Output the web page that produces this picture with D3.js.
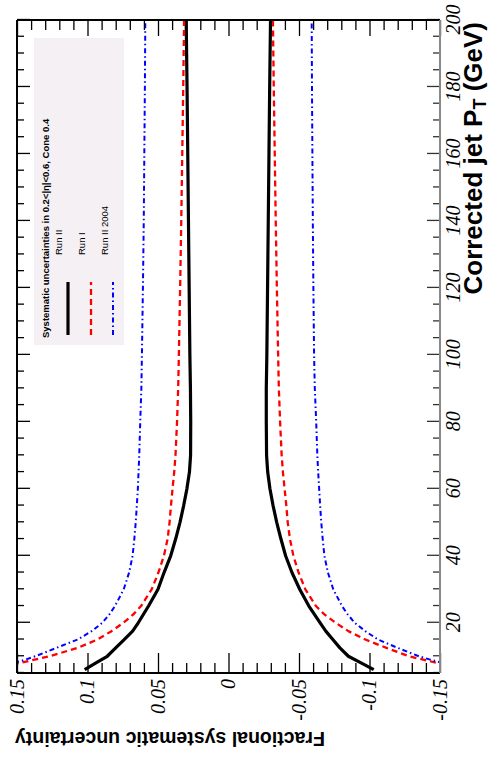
<!DOCTYPE html>
<html>
<head>
<meta charset="utf-8">
<script src="https://cdn.jsdelivr.net/npm/d3@7"></script>
<style>
  html, body { margin: 0; padding: 0; background: #fff; }
  svg { display: block; }
</style>
</head>
<body>
<svg id="chart" width="491" height="771"></svg>
<script>
// ---- Data ----
const ptRunII = [6, 8, 10, 12.5, 15, 17.5, 20, 25, 30, 35, 40, 45, 50, 55, 60, 65, 70, 80, 90, 100, 120, 140, 160, 180, 200];
const runIIUp = [0.102, 0.094, 0.086, 0.080, 0.074, 0.068, 0.064, 0.0567, 0.050, 0.0457, 0.041, 0.0375, 0.0344, 0.0318, 0.0295, 0.0277, 0.0269, 0.0268, 0.027, 0.0274, 0.0279, 0.0284, 0.0289, 0.0294, 0.030];
const runIIDown = [-0.103, -0.094, -0.085, -0.079, -0.074, -0.069, -0.065, -0.057, -0.0505, -0.045, -0.0405, -0.0372, -0.0342, -0.0316, -0.0294, -0.0278, -0.027, -0.0268, -0.0268, -0.0272, -0.0277, -0.0282, -0.0287, -0.0292, -0.0298];

const ptRunI = [7.5, 8, 10, 12.5, 15, 17.5, 20, 22.5, 25, 30, 35, 40, 45, 50, 55, 60, 65, 70, 80, 90, 100, 120, 140, 160, 180, 200];
const runIUp = [0.153, 0.148, 0.127, 0.107, 0.093, 0.083, 0.0745, 0.0675, 0.062, 0.0545, 0.0497, 0.0458, 0.0432, 0.0418, 0.0408, 0.0397, 0.0385, 0.0376, 0.0365, 0.0357, 0.0352, 0.0343, 0.0335, 0.0328, 0.0321, 0.0315];
const runIDown = [-0.154, -0.148, -0.128, -0.112, -0.097, -0.085, -0.076, -0.068, -0.062, -0.0545, -0.0497, -0.046, -0.0436, -0.042, -0.041, -0.0398, -0.0386, -0.0377, -0.0366, -0.0357, -0.0352, -0.0343, -0.0335, -0.0328, -0.0321, -0.0315];

const pt2004 = [8, 9, 10, 12.5, 15, 17.5, 20, 22.5, 25, 30, 35, 40, 45, 50, 55, 60, 65, 70, 80, 90, 100, 120, 140, 160, 180, 200];
const run2004Up = [0.152, 0.144, 0.137, 0.122, 0.107, 0.097, 0.0895, 0.0845, 0.0805, 0.0743, 0.0705, 0.068, 0.0668, 0.0658, 0.065, 0.0643, 0.0638, 0.0633, 0.0626, 0.0618, 0.0614, 0.0607, 0.0601, 0.0597, 0.0593, 0.059];
const run2004Down = [-0.152, -0.143, -0.135, -0.12, -0.106, -0.097, -0.0895, -0.0845, -0.0805, -0.0743, -0.0705, -0.068, -0.0668, -0.0658, -0.065, -0.0643, -0.0636, -0.063, -0.0622, -0.0612, -0.0607, -0.0602, -0.0598, -0.0595, -0.0592, -0.059];

const xMajorTicks = [20, 40, 60, 80, 100, 120, 140, 160, 180, 200];
const yMajorTicks = [-0.15, -0.1, -0.05, 0, 0.05, 0.1, 0.15];
const legendLabels = ["Run II", "Run I", "Run II 2004"];
const legendTitle = "Systematic uncertainties in 0.2<|\u03b7|<0.6, Cone 0.4";
const xTitle = "Corrected jet P";
const xTitleSub = "T";
const xTitleTail = " (GeV)";
const yTitle = "Fractional systematic uncertainty";

// ---- Layout (chart drawn in its natural orientation, then rotated -90deg) ----
const svg = d3.select("#chart");
const g = svg.append("g").attr("transform", "translate(0,771) rotate(-90)");

const x = d3.scaleLinear().domain([5, 200]).range([98, 751]);
const y = d3.scaleLinear().domain([-0.15, 0.15]).range([440, 17]);

const xMinor = d3.range(5, 201, 5).filter(v => v % 20 !== 0);
const yMinor = d3.range(-15, 16, 1).map(v => v / 100).filter(v => Math.abs(Math.round(v * 100)) % 5 !== 0);

const fmtY = d => d === 0 ? "0" : String(+d.toFixed(2)).replace("\u2212", "-");

// clip
svg.append("defs").append("clipPath").attr("id", "clip")
  .append("rect").attr("x", x(5)).attr("y", y(0.15))
  .attr("width", x(200) - x(5)).attr("height", y(-0.15) - y(0.15));

// curves
const series = [
  { pt: ptRunII, vals: runIIUp, color: "#000", w: 3.2, dash: null },
  { pt: ptRunII, vals: runIIDown, color: "#000", w: 3.2, dash: null },
  { pt: ptRunI, vals: runIUp, color: "#ff0000", w: 2.3, dash: "6,4" },
  { pt: ptRunI, vals: runIDown, color: "#ff0000", w: 2.3, dash: "6,4" },
  { pt: pt2004, vals: run2004Up, color: "#0000ff", w: 2, dash: "5,3,1.5,3" },
  { pt: pt2004, vals: run2004Down, color: "#0000ff", w: 2, dash: "5,3,1.5,3" }
];
const line = d3.line().x(d => x(d[0])).y(d => y(d[1]));
const curves = g.append("g").attr("clip-path", "url(#clip)");
series.forEach(s => {
  curves.append("path")
    .datum(s.pt.map((p, i) => [p, s.vals[i]]))
    .attr("d", line)
    .attr("fill", "none")
    .attr("stroke", s.color)
    .attr("stroke-width", s.w)
    .attr("stroke-dasharray", s.dash)
    .attr("stroke-linejoin", "round");
});

// axes
function styleAxis(sel, color) {
  sel.select(".domain").remove();
  sel.selectAll(".tick line").attr("stroke", color || "#000").attr("stroke-width", 1.3);
}
const tickFont = "'Liberation Serif','Times New Roman',serif";

// bottom (pT) axis
const xAx = g.append("g").attr("transform", `translate(0,${y(-0.15)})`)
  .call(d3.axisBottom(x).tickValues(xMajorTicks).tickSize(-13).tickPadding(6).tickFormat(d3.format("d")));
styleAxis(xAx, "#333");
xAx.selectAll("text").attr("font-family", tickFont).attr("font-style", "italic")
  .attr("font-size", 20).attr("fill", "#000");
const xAxMin = g.append("g").attr("transform", `translate(0,${y(-0.15)})`)
  .call(d3.axisBottom(x).tickValues(xMinor).tickSize(-7).tickFormat(""));
styleAxis(xAxMin, "#333");

// top (mirror)
const xTop = g.append("g").attr("transform", `translate(0,${y(0.15)})`)
  .call(d3.axisTop(x).tickValues(xMajorTicks).tickSize(-13).tickFormat(""));
styleAxis(xTop);
const xTopMin = g.append("g").attr("transform", `translate(0,${y(0.15)})`)
  .call(d3.axisTop(x).tickValues(xMinor).tickSize(-7).tickFormat(""));
styleAxis(xTopMin);

// left (value) axis
const yAx = g.append("g").attr("transform", `translate(${x(5)},0)`)
  .call(d3.axisLeft(y).tickValues(yMajorTicks).tickSize(-20).tickPadding(6).tickFormat(fmtY));
styleAxis(yAx);
yAx.selectAll("text").attr("font-family", tickFont).attr("font-style", "italic")
  .attr("font-size", 20).attr("fill", "#000");
const yAxMin = g.append("g").attr("transform", `translate(${x(5)},0)`)
  .call(d3.axisLeft(y).tickValues(yMinor).tickSize(-10).tickFormat(""));
styleAxis(yAxMin);

// right (mirror)
const yR = g.append("g").attr("transform", `translate(${x(200)},0)`)
  .call(d3.axisRight(y).tickValues(yMajorTicks).tickSize(-16).tickFormat(""));
styleAxis(yR);
const yRMin = g.append("g").attr("transform", `translate(${x(200)},0)`)
  .call(d3.axisRight(y).tickValues(yMinor).tickSize(-10).tickFormat(""));
styleAxis(yRMin);

// frame
g.append("line").attr("x1", x(5)).attr("x2", x(200)).attr("y1", y(0.15)).attr("y2", y(0.15))
  .attr("stroke", "#000").attr("stroke-width", 2);
g.append("line").attr("x1", x(5)).attr("x2", x(5)).attr("y1", y(0.15)).attr("y2", y(-0.15))
  .attr("stroke", "#000").attr("stroke-width", 2);
g.append("line").attr("x1", x(200)).attr("x2", x(200)).attr("y1", y(0.15)).attr("y2", y(-0.15))
  .attr("stroke", "#000").attr("stroke-width", 2);
g.append("line").attr("x1", x(5)).attr("x2", x(200)).attr("y1", y(-0.15)).attr("y2", y(-0.15))
  .attr("stroke", "#888").attr("stroke-width", 2);

// legend
const lg = g.append("g");
lg.append("rect").attr("x", 426).attr("y", 34).attr("width", 307).attr("height", 90)
  .attr("fill", "#f5f0f3");
lg.append("text").attr("x", 433).attr("y", 48.5)
  .attr("font-family", "'Liberation Sans',Arial,sans-serif").attr("font-weight", "bold")
  .attr("font-size", 9.5).text(legendTitle);
const legStyles = [series[0], series[2], series[4]];
const legLineY = [68, 91, 113];
const legTextY = [62, 85, 108];
legendLabels.forEach((lab, i) => {
  lg.append("line").attr("x1", 436).attr("x2", 489).attr("y1", legLineY[i]).attr("y2", legLineY[i])
    .attr("stroke", legStyles[i].color).attr("stroke-width", legStyles[i].w)
    .attr("stroke-dasharray", legStyles[i].dash);
  lg.append("text").attr("x", 516).attr("y", legTextY[i])
    .attr("font-family", "'Liberation Sans',Arial,sans-serif").attr("font-size", 9.5)
    .text(lab);
});

// axis titles
const xt = g.append("text").attr("x", 749).attr("y", 482).attr("text-anchor", "end")
  .attr("font-family", "'Liberation Sans',Arial,sans-serif").attr("font-weight", "bold")
  .attr("font-size", 26);
xt.append("tspan").text(xTitle);
xt.append("tspan").attr("font-size", 18).attr("dy", 4).text(xTitleSub);
xt.append("tspan").attr("dy", -4).text(xTitleTail);

g.append("text").attr("transform", "translate(39,15) rotate(-90)").attr("text-anchor", "end")
  .attr("font-family", "'Liberation Sans',Arial,sans-serif").attr("font-weight", "bold")
  .attr("font-size", 19.5).text(yTitle);
</script>
</body>
</html>
